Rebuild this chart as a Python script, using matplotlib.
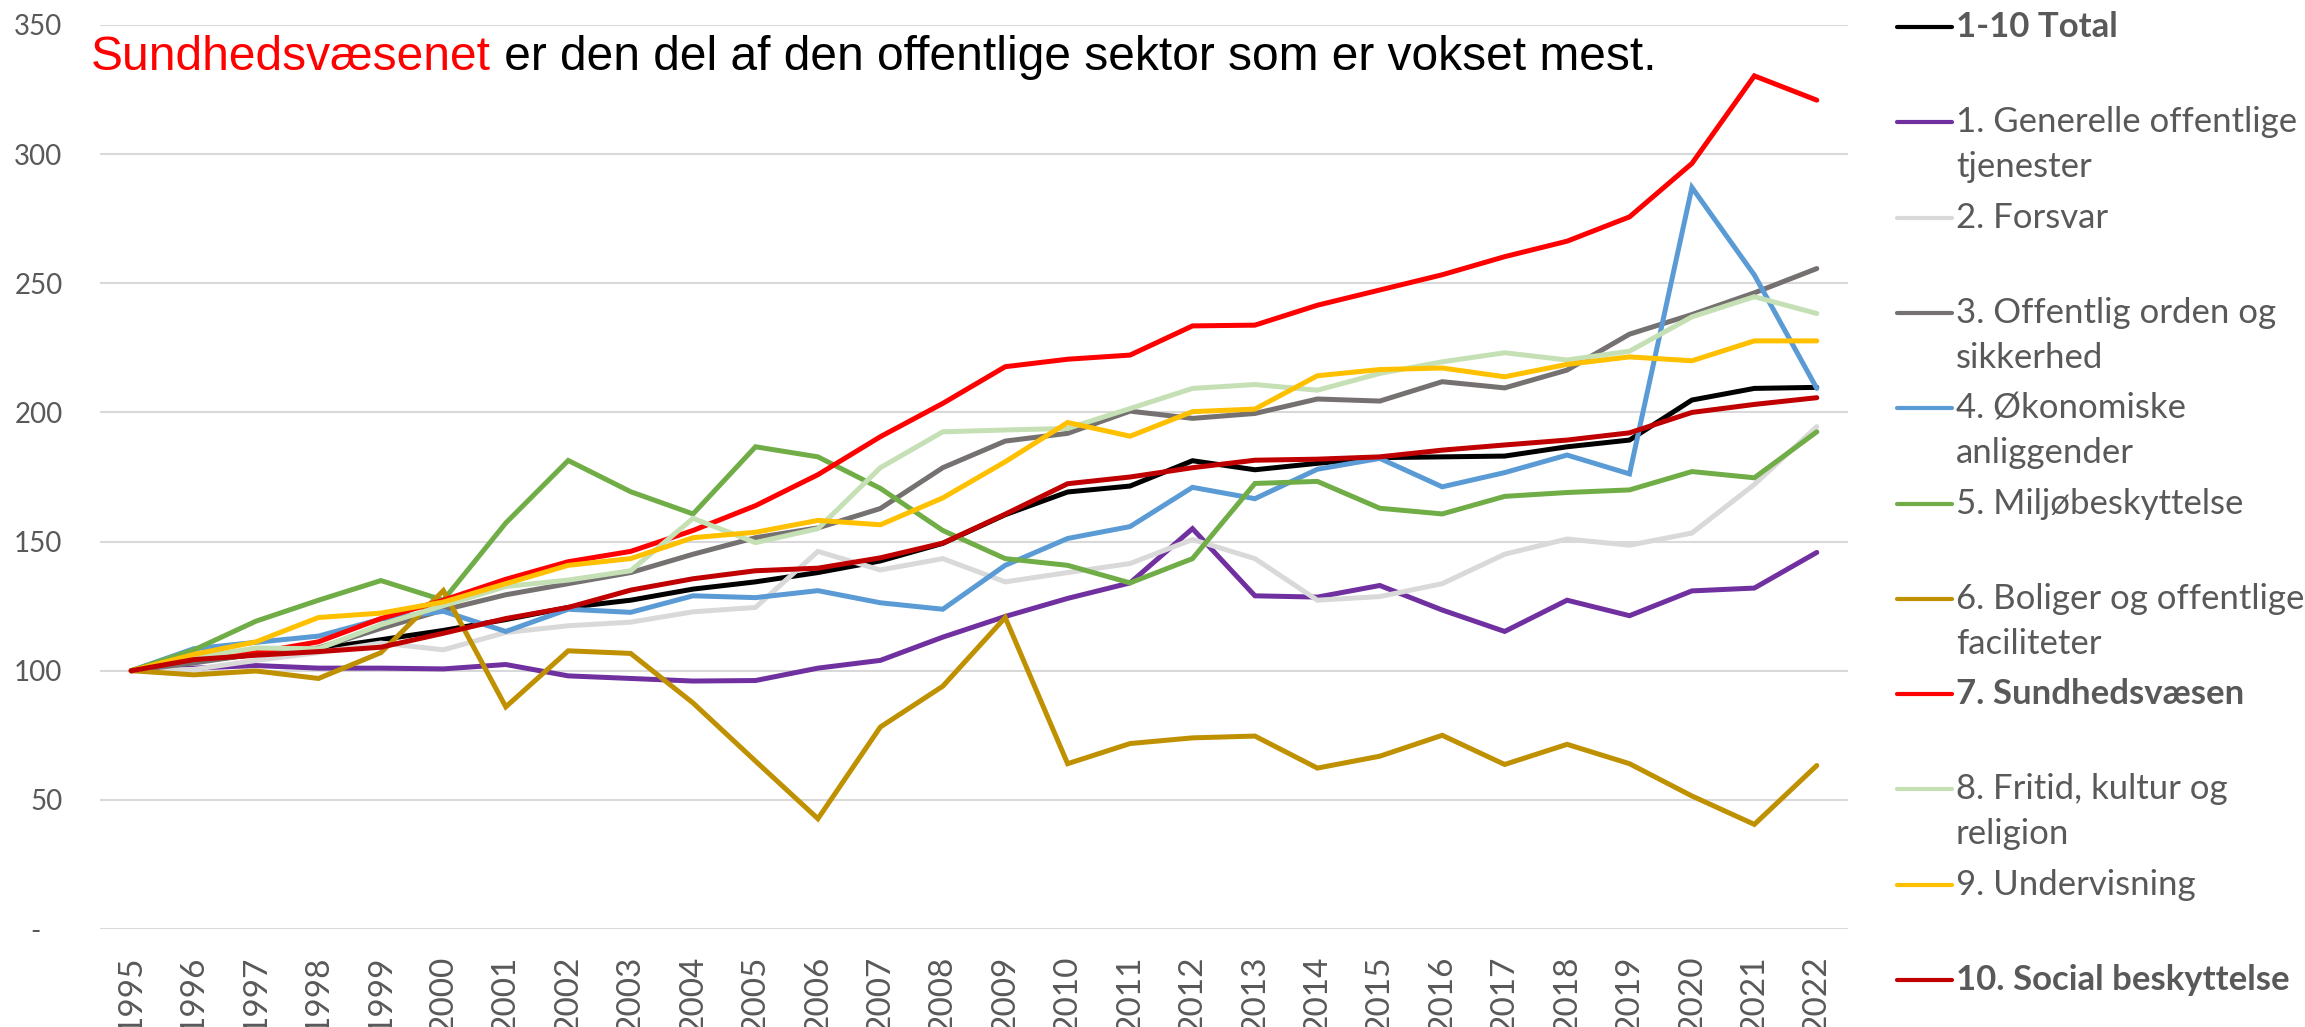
import numpy as np
import matplotlib
matplotlib.use("Agg")
import matplotlib.pyplot as plt
from matplotlib.lines import Line2D

# Index 1995 = 100, udgifter fordelt på funktion
years = list(range(1995, 2023))

total = [100, 103.6, 106.3, 108.5, 112, 115.6, 119.8, 124.5, 127.3, 131.6, 134.4, 138, 142.5, 149.3,
         160.4, 169.2, 171.5, 181.3, 177.8, 180.3, 182.5, 182.8, 183.1, 186.7, 189.3, 204.8, 209.3, 209.7]
generelle = [100, 101, 102, 101, 101, 100.7, 102.4, 98, 97, 96, 96.2, 101, 104, 113,
             121, 128, 134, 155, 129, 128.5, 133, 123.5, 115.2, 127.3, 121.3, 130.9, 132, 145.8]
forsvar = [100, 100.5, 104, 107, 110.7, 108.1, 114.8, 117.4, 118.8, 122.8, 124.5, 146.2, 139, 143.4,
           134.4, 138, 141.5, 150.8, 143.4, 127.3, 128.7, 133.7, 145.1, 151, 148.6, 153.3, 172.1, 194.5]
orden = [100, 103, 106.5, 108.8, 116.4, 123.5, 129.4, 133.7, 138, 145.1, 151.5, 155.3, 162.8, 178.6,
         188.9, 191.9, 200.5, 197.7, 199.6, 205.2, 204.4, 211.9, 209.5, 216.4, 230.3, 237.9, 246.3, 255.7]
okonomi = [100, 108.5, 111, 113.4, 120, 123, 115.2, 123.8, 122.6, 129, 128.3, 131, 126.3, 123.8,
           140.8, 151.2, 155.8, 171, 166.6, 178, 182.2, 171.2, 176.7, 183.5, 176.2, 287.1, 253.2, 209.3]
miljo = [100, 108, 119.2, 127.3, 134.9, 127.3, 157.2, 181.4, 169.3, 160.7, 186.7, 182.8, 170.6, 154.3,
         143.4, 140.8, 134, 143.4, 172.5, 173.3, 162.9, 160.7, 167.5, 169, 170, 177.1, 174.7, 192.5]
boliger = [100, 98.4, 99.9, 97, 107, 131, 86, 107.7, 106.7, 87.5, 65, 42.7, 78.2, 94,
           120.6, 64, 71.8, 74, 74.7, 62.3, 66.9, 75, 63.7, 71.5, 64, 51.5, 40.5, 63.3]
sundhed = [100, 104.6, 107, 111.2, 120.2, 127.3, 135.4, 142.2, 146.2, 154.3, 163.9, 175.9, 190.6, 203.5,
           217.7, 220.6, 222.2, 233.5, 233.8, 241.5, 247.4, 253.3, 260.3, 266.3, 275.7, 296.4, 330.3, 320.9]
fritid = [100, 105, 108.8, 108.5, 117.8, 125.2, 132.6, 135.1, 138.7, 159, 149.6, 155, 178.6, 192.5,
          193.2, 193.8, 201.5, 209.3, 210.8, 208.6, 215.1, 219.6, 223.1, 220.3, 223.7, 237, 244.8, 238.3]
undervisning = [100, 106.3, 111.2, 120.6, 122.3, 126.6, 133.7, 140.8, 143.4, 151.5, 153.6, 158.2, 156.5, 166.9,
                180.9, 196.1, 190.8, 200.3, 201.3, 214.2, 216.6, 217.2, 213.8, 218.6, 221.5, 220, 227.7, 227.7]
social = [100, 104.3, 106, 107.4, 109.1, 114.5, 120.2, 124.5, 131.2, 135.6, 138.7, 139.7, 143.7, 149.4,
          160.6, 172.4, 175, 178.6, 181.5, 181.9, 182.8, 185.4, 187.4, 189.3, 192.1, 200, 203.1, 205.7]

SERIES = [
    ("1-10 Total", total, "#000000", True),
    ("1. Generelle offentlige\ntjenester", generelle, "#7030A0", False),
    ("2. Forsvar", forsvar, "#D9D9D9", False),
    ("3. Offentlig orden og\nsikkerhed", orden, "#767171", False),
    ("4. Økonomiske\nanliggender", okonomi, "#5B9BD5", False),
    ("5. Miljøbeskyttelse", miljo, "#70AD47", False),
    ("6. Boliger og offentlige\nfaciliteter", boliger, "#BF9000", False),
    ("7. Sundhedsvæsen", sundhed, "#FF0000", True),
    ("8. Fritid, kultur og\nreligion", fritid, "#C5E0B4", False),
    ("9. Undervisning", undervisning, "#FFC000", False),
    ("10. Social beskyttelse", social, "#C00000", True),
]

TXT = "#595959"
W, H = 2305, 1027

fig = plt.figure(figsize=(W / 100, H / 100), dpi=100)
ax = fig.add_axes([100 / W, 98 / H, 1748 / W, 904 / H])

x = np.arange(len(years))
for label, vals, color, bold in SERIES:
    ax.plot(x, vals, color=color, lw=3.6, solid_joinstyle="miter", solid_capstyle="round", label=label)

ax.set_xlim(-0.5, len(years) - 0.5)
ax.set_ylim(0, 350)
ax.set_xticks(x)
ax.set_xticklabels([str(y) for y in years], rotation=90, fontfamily="Lato", fontsize=24, color=TXT)
yt = np.arange(0, 351, 50)
ax.set_yticks(yt)
ax.set_yticklabels(["-   "] + [str(v) for v in yt[1:]], fontfamily="Lato", fontsize=20, color=TXT)
ax.tick_params(axis="both", length=0)
ax.tick_params(axis="x", pad=19)
ax.tick_params(axis="y", pad=27)
ax.grid(axis="y", color="#D9D9D9", lw=1.5)
ax.set_axisbelow(True)
for s in ax.spines.values():
    s.set_visible(False)

# title inside the plot, red first part
t1 = fig.text(91 / W, 1 - 70 / H, "Sundhedsvæsenet", color="#FF0000", fontsize=34.5,
              fontfamily="Liberation Sans", va="baseline", ha="left")
ax.annotate(" er den del af den offentlige sektor som er vokset mest.", xy=(1, 0), xycoords=t1,
            va="bottom", ha="left", fontsize=34.5, fontfamily="Liberation Sans", color="black",
            annotation_clip=False)

# legend drawn by hand so the line sits on the first text line
step = 95.3
for i, (label, vals, color, bold) in enumerate(SERIES):
    ly = 27 + i * step
    fig.add_artist(Line2D([1897 / W, 1952 / W], [1 - ly / H, 1 - ly / H], color=color, lw=3,
                          solid_capstyle="round", transform=fig.transFigure))
    for k, part in enumerate(label.split("\n")):
        fig.text(1956 / W, 1 - (ly + 10 + 45 * k) / H, part, color=TXT, fontsize=25,
                 fontfamily="Lato", fontweight="bold" if bold else "normal", va="baseline", ha="left")

fig.savefig("out.png", dpi=100)
